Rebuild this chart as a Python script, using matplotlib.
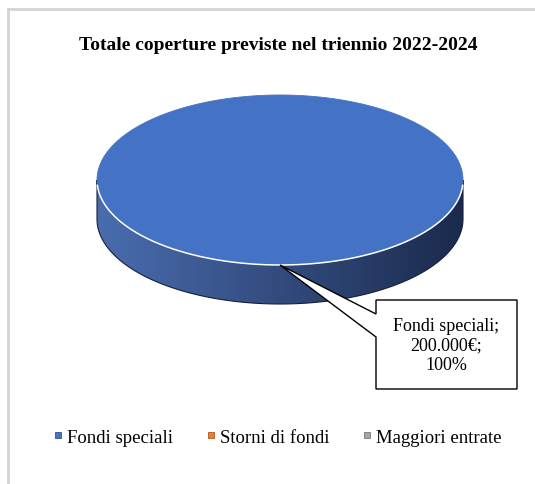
import numpy as np
import matplotlib.pyplot as plt
from matplotlib.patches import Polygon
from matplotlib.lines import Line2D
from matplotlib.colors import LinearSegmentedColormap

categories = ['Fondi speciali', 'Storni di fondi', 'Maggiori entrate']
values = [200000, 0, 0]
colors = ['#4472C4', '#ED7D31', '#A5A5A5']
edge_colors = ['#2f528f', '#ae5a21', '#787878']
side_colors = [('#4a6db0', '#1b2a4c'), ('#c86420', '#6e3510'), ('#8c8c8c', '#4a4a4a')]
title = 'Totale coperture previste nel triennio 2022-2024'

plt.rcParams['font.family'] = ['Liberation Serif', 'DejaVu Serif']

W, H = 535, 485
fig = plt.figure(figsize=(W / 100, H / 100), dpi=100)
ax = fig.add_axes([0, 0, 1, 1])
ax.set_xlim(0, W)
ax.set_ylim(H, 0)
ax.axis('off')

# outer frame (only top and left edges are visible)
ax.plot([8, W], [10, 10], color='#d4d4d4', lw=2)
ax.plot([8, 8], [10, H], color='#d4d4d4', lw=2)

ax.text(278, 45, title, ha='center', va='center', fontsize=14, fontweight='bold')

# 3d pie geometry
cx, cy, a, b, depth = 280, 181, 183, 85, 39
total = sum(values)


def rim(t, dy=0):
    return np.column_stack([cx + a * np.cos(t), cy - b * np.sin(t) + dy])


start = np.pi / 2
for i, (val, col, scol) in enumerate(zip(values, colors, side_colors)):
    if val == 0:
        continue
    frac = val / total
    t1, t0 = start, start - 2 * np.pi * frac
    # visible front side: angles between pi and 2pi
    if frac >= 1:
        lo, hi = np.pi, 2 * np.pi
    else:
        lo, hi = max(t0 % (2 * np.pi), np.pi), min(t1 % (2 * np.pi) or 2 * np.pi, 2 * np.pi)
    ts = np.linspace(lo, hi, 300)
    side = np.vstack([rim(ts), rim(ts[::-1], depth)])
    poly = Polygon(side, closed=True, facecolor='none', edgecolor='#15213a', lw=0.8, zorder=2)
    ax.add_patch(poly)
    cmap = LinearSegmentedColormap.from_list('side', list(scol))
    grad = np.linspace(0, 1, 256).reshape(1, -1)
    im = ax.imshow(grad, cmap=cmap, extent=[cx - a, cx + a, cy + b + depth, cy - b],
                   aspect='auto', zorder=1)
    im.set_clip_path(poly)

    tt = np.linspace(t0, t1, 400)
    top = rim(tt) if frac >= 1 else np.vstack([[cx, cy], rim(tt)])
    ax.add_patch(Polygon(top, closed=True, facecolor=col, edgecolor=col, lw=0.6, zorder=3))
    # light rim along the front edge
    ax.plot(*rim(np.linspace(np.pi * 1.02, np.pi * 1.98, 200)).T, color='white', lw=1.1, zorder=4)

    # data label with callout
    mid = (t0 + t1) / 2
    tip = rim(np.array([mid]))[0]
    bx0, by0, bx1, by1 = 376, 301, 517, 390
    callout = [(bx0, by0), (bx1, by0), (bx1, by1), (bx0, by1), (bx0, 338), tuple(tip), (bx0, 315)]
    ax.add_patch(Polygon(callout, closed=True, facecolor='white', edgecolor='black', lw=1.0, zorder=5))
    amount = f'{val:,.0f}'.replace(',', '.') + '€'
    label = f'{categories[i]};\n{amount};\n{frac * 100:.0f}%'
    ax.text((bx0 + bx1) / 2, 346, label, ha='center', va='center', fontsize=13,
            linespacing=1.2, zorder=6)
    start = t0

handles = [Line2D([], [], marker='s', ls='none', markersize=4.5, markerfacecolor=c,
                  markeredgecolor=e, markeredgewidth=0.6) for c, e in zip(colors, edge_colors)]
fig.legend(handles, categories, loc='center', bbox_to_anchor=(0.516, 1 - 438 / H), ncol=3,
           frameon=False, fontsize=13.5, handletextpad=0.1, columnspacing=1.6, handlelength=0.8)

fig.savefig('out.png', dpi=100)
